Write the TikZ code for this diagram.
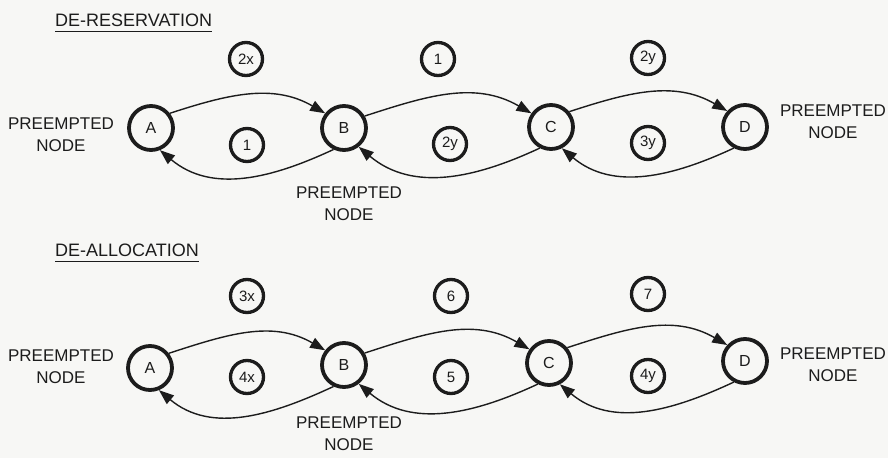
\documentclass[tikz,border=0pt]{standalone}
\usepackage{fontspec}
\setmainfont{Liberation Sans}
\usetikzlibrary{arrows.meta}
\definecolor{paper}{RGB}{247,247,245}
\definecolor{ink}{RGB}{28,28,28}
\begin{document}
\begin{tikzpicture}[x=1pt,y=1pt,
  station/.style={circle,draw=ink,text=ink,line width=3.8pt,minimum size=44pt,inner sep=0pt,
    font=\fontsize{16}{16}\selectfont},
  tag/.style={circle,draw=ink,text=ink,line width=3.3pt,minimum size=33pt,inner sep=0pt,
    font=\fontsize{15}{15}\selectfont},
  caption/.style={align=center,text=ink,inner sep=0pt,font=\fontsize{17}{22}\selectfont},
  heading/.style={anchor=base west,text=ink,inner sep=0pt,font=\fontsize{18}{18}\selectfont},
  underline/.style={draw=ink,line width=0.9pt},
  flow/.style={draw=ink,line width=1.4pt,-{Triangle[length=15pt,width=11pt]}}]
\fill[paper] (0,0) rectangle (888,458);
\useasboundingbox (0,0) rectangle (888,458);

% ---------- de-reservation ----------
\node[heading] (h1) at (55,431) {DE-RESERVATION};
\draw[underline] ([yshift=-4pt]h1.base west) -- ([yshift=-4pt]h1.base east);

\node[station] (tA) at (151,330) {A};
\node[station] (tB) at (344,330) {B};
\node[station] (tC) at (551,331) {C};
\node[station] (tD) at (745,331) {D};

\node[tag] (t1u) at (246,399) {2x};
\node[tag] (t2u) at (438,399) {1};
\node[tag] (t3u) at (648,400) {2y};
\node[tag] (t1l) at (247,313) {1};
\node[tag] (t2l) at (450,314) {2y};
\node[tag] (t3l) at (648,315) {3y};

\node[caption] (tcA) at (61,323.5) {PREEMPTED\\NODE};
\node[caption] (tcB) at (349,254.5) {PREEMPTED\\NODE};
\node[caption] (tcD) at (833,336) {PREEMPTED\\NODE};

\draw[flow] (tA.38) to[out=18,in=150] (tB.142);
\draw[flow] (tB.30) to[out=18,in=150] (tC.145);
\draw[flow] (tC.40) to[out=18,in=150] (tD.138);
\draw[flow] (tB.244) to[out=205,in=-40] (tA.292);
\draw[flow] (tC.242) to[out=205,in=-40] (tB.308);
\draw[flow] (tD.242) to[out=205,in=-40] (tC.297);

% ---------- de-allocation ----------
\node[heading] (h2) at (55,201) {DE-ALLOCATION};
\draw[underline] ([yshift=-4pt]h2.base west) -- ([yshift=-4pt]h2.base east);

\node[station] (bA) at (150,90) {A};
\node[station] (bB) at (344,93) {B};
\node[station] (bC) at (549,95) {C};
\node[station] (bD) at (745,97) {D};

\node[tag] (b1u) at (247,162) {3x};
\node[tag] (b2u) at (451,162) {6};
\node[tag] (b3u) at (648,164) {7};
\node[tag] (b1l) at (247,81) {4x};
\node[tag] (b2l) at (451,81) {5};
\node[tag] (b3l) at (648,82) {4y};

\node[caption] (bcA) at (61,91.5) {PREEMPTED\\NODE};
\node[caption] (bcB) at (349,24.5) {PREEMPTED\\NODE};
\node[caption] (bcD) at (833,93) {PREEMPTED\\NODE};

\draw[flow] (bA.38) to[out=18,in=150] (bB.142);
\draw[flow] (bB.30) to[out=18,in=150] (bC.145);
\draw[flow] (bC.40) to[out=18,in=150] (bD.138);
\draw[flow] (bB.244) to[out=205,in=-40] (bA.292);
\draw[flow] (bC.242) to[out=205,in=-40] (bB.308);
\draw[flow] (bD.242) to[out=205,in=-40] (bC.297);
\end{tikzpicture}
\end{document}
